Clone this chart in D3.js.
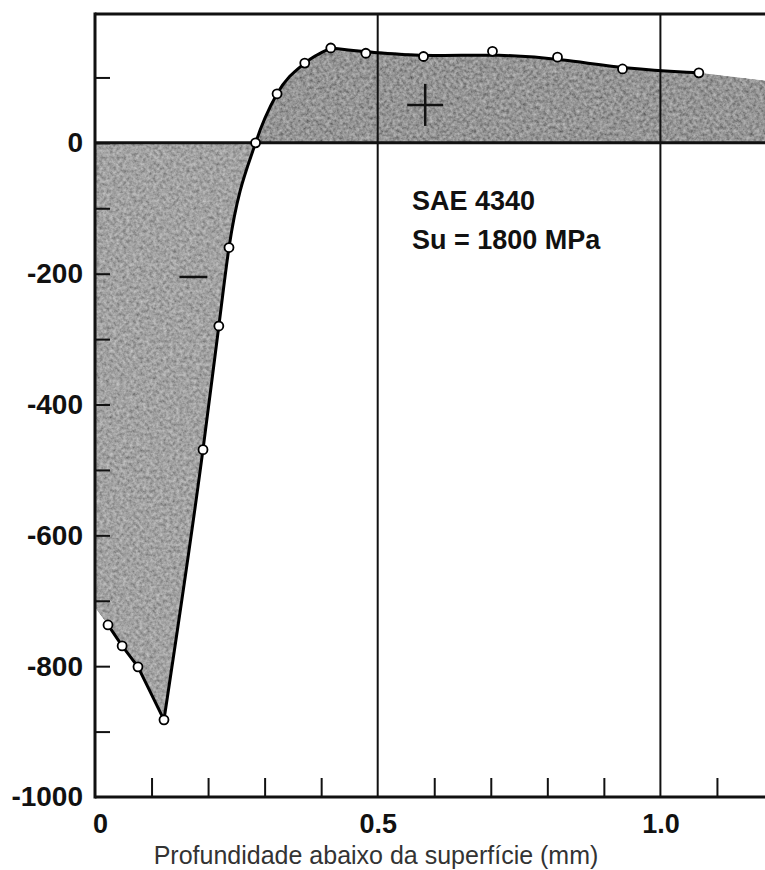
<!DOCTYPE html>
<html>
<head>
<meta charset="utf-8">
<script src="https://cdn.jsdelivr.net/npm/d3@7"></script>
<style>
  html, body { margin: 0; padding: 0; background: #fff; }
  svg { display: block; }
</style>
</head>
<body>
<svg id="chart" width="765" height="870"></svg>
<script>
// ---- data ----
const depth  = [0.023, 0.048, 0.076, 0.122, 0.191, 0.219, 0.237, 0.284, 0.322, 0.371, 0.417, 0.479, 0.581, 0.703, 0.818, 0.933, 1.068];
const stress = [-737, -769, -801, -882, -469, -280, -160, 0, 75, 122, 145, 137, 132, 140, 131, 113, 107];
// shaded region continues past the measured points
const fillEdgeDepth  = [0, 1.185];
const fillEdgeStress = [-710, 95];

const yTickValues  = [100, 0, -100, -200, -300, -400, -500, -600, -700, -800, -900];
const yLabelValues = [0, -200, -400, -600, -800, -1000];
const xTickValues  = [0.1, 0.2, 0.3, 0.4, 0.6, 0.7, 0.8, 0.9, 1.1];
const xLabelValues = [0, 0.5, 1.0];
const xGridValues  = [0.5, 1.0];

const xTitle = "Profundidade abaixo da superfície (mm)";
const noteLines = ["SAE 4340", "Su = 1800 MPa"];

// ---- scales ----
const svg = d3.select("#chart");
const x = d3.scaleLinear().domain([0, 1.185]).range([95, 765]);
const y = d3.scaleLinear().domain([-1000, 197]).range([797, 14]);
const FONT = "Liberation Sans, Arial, sans-serif";

const defs = svg.append("defs");
const f = defs.append("filter").attr("id", "grain")
  .attr("x", "-5%").attr("y", "-5%").attr("width", "110%").attr("height", "110%");
f.append("feTurbulence").attr("type", "fractalNoise").attr("baseFrequency", "0.3")
  .attr("numOctaves", 3).attr("seed", 7).attr("result", "t");
f.append("feColorMatrix").attr("in", "t").attr("type", "matrix")
  .attr("values", "1 0 0 0 0  1 0 0 0 0  1 0 0 0 0  0 0 0 0 1").attr("result", "g");
f.append("feComposite").attr("in", "SourceGraphic").attr("in2", "g")
  .attr("operator", "arithmetic").attr("k1", 0).attr("k2", 1).attr("k3", 0.5).attr("k4", -0.25)
  .attr("result", "m");
f.append("feComposite").attr("in", "m").attr("in2", "SourceAlpha").attr("operator", "in");

defs.append("clipPath").attr("id", "above").append("rect")
  .attr("x", 0).attr("y", 0).attr("width", 765).attr("height", y(0));
defs.append("clipPath").attr("id", "below").append("rect")
  .attr("x", 0).attr("y", y(0)).attr("width", 765).attr("height", 870 - y(0));

// ---- curve segments ----
const pts = depth.map((d, i) => [d, stress[i]]);
const minIdx = stress.indexOf(d3.min(stress));
const peakIdx = stress.indexOf(d3.max(stress));
const segLinear = pts.slice(0, minIdx + 1);           // straight run down to the minimum
const segRise   = pts.slice(minIdx, peakIdx + 1);     // steep smooth rise
const segTail   = pts.slice(peakIdx);                  // gently falling smoothed tail
const last = pts[pts.length - 1];
const tailCurve = d3.curveBundle.beta(0.7);

const mk = c => d3.area().x(d => x(d[0])).y0(y(0)).y1(d => y(d[1])).curve(c);
const areaD =
  mk(d3.curveLinear)([[fillEdgeDepth[0], fillEdgeStress[0]], ...segLinear]) +
  mk(d3.curveMonotoneX)(segRise) +
  mk(d3.curveLinear)(segTail.slice(0, 1).concat(segTail.slice(-1))) +
  mk(d3.curveLinear)([last, [fillEdgeDepth[1], fillEdgeStress[1]]]);

// tail area: fill between the bundled line and zero using a closed path
const tailLine = d3.line().x(d => x(d[0])).y(d => y(d[1])).curve(tailCurve)(segTail);
const tailAreaD = tailLine + `L${x(last[0])},${y(0)}L${x(segTail[0][0])},${y(0)}Z`;

svg.append("path").attr("d", areaD + tailAreaD).attr("fill", "#959595")
  .attr("filter", "url(#grain)").attr("clip-path", "url(#above)");
svg.append("path").attr("d", areaD).attr("fill", "#a2a2a2")
  .attr("filter", "url(#grain)").attr("clip-path", "url(#below)");

// ---- frame & grid ----
const lineG = svg.append("g").attr("stroke", "#111").attr("fill", "none");
xGridValues.forEach(v => {
  lineG.append("line").attr("x1", x(v)).attr("x2", x(v)).attr("y1", y(197)).attr("y2", y(-1000))
    .attr("stroke-width", 2);
});
lineG.append("line").attr("x1", x(0)).attr("x2", x(1.185)).attr("y1", y(0)).attr("y2", y(0)).attr("stroke-width", 3);
lineG.append("line").attr("x1", x(0)).attr("x2", x(1.185)).attr("y1", y(197)).attr("y2", y(197)).attr("stroke-width", 3);
lineG.append("line").attr("x1", x(0)).attr("x2", x(1.185)).attr("y1", y(-1000)).attr("y2", y(-1000)).attr("stroke-width", 3);
lineG.append("line").attr("x1", x(0)).attr("x2", x(0)).attr("y1", y(197) - 1.5).attr("y2", y(-1000) + 1.5).attr("stroke-width", 3);

// minor ticks (inside)
const yTicksG = svg.append("g").attr("transform", `translate(${x(0)},0)`)
  .call(d3.axisRight(y).tickValues(yTickValues).tickSize(15).tickFormat(""));
yTicksG.select(".domain").remove();
yTicksG.selectAll("line").attr("stroke", "#111").attr("stroke-width", 2);

const xTicksG = svg.append("g").attr("transform", `translate(0,${y(-1000)})`)
  .call(d3.axisTop(x).tickValues(xTickValues).tickSize(19).tickFormat(""));
xTicksG.select(".domain").remove();
xTicksG.selectAll("line").attr("stroke", "#111").attr("stroke-width", 2);

// labels
const yLab = svg.append("g").attr("transform", `translate(${x(0)},0)`)
  .call(d3.axisLeft(y).tickValues(yLabelValues).tickSize(0).tickPadding(12).tickFormat(d => String(d)));
yLab.select(".domain").remove();
yLab.selectAll("text").attr("font-family", FONT)
  .attr("font-size", 28).attr("font-weight", "bold").attr("fill", "#111");

const xLab = svg.append("g").attr("transform", `translate(0,${y(-1000)})`)
  .call(d3.axisBottom(x).tickValues(xLabelValues).tickSize(0).tickPadding(17)
    .tickFormat(d => d === 0 ? "0" : d.toFixed(1)));
xLab.select(".domain").remove();
xLab.selectAll("text").attr("font-family", FONT)
  .attr("font-size", 27).attr("font-weight", "bold").attr("fill", "#111")
  .attr("dx", d => d === 0 ? 5 : 0);

svg.append("text").attr("x", x(0.497)).attr("y", 864).attr("text-anchor", "middle")
  .attr("font-family", FONT).attr("font-size", 25)
  .attr("fill", "#333").text(xTitle);

// ---- curve ----
const lineOf = c => d3.line().x(d => x(d[0])).y(d => y(d[1])).curve(c);
svg.append("path")
  .attr("d", lineOf(d3.curveLinear)(segLinear) + lineOf(d3.curveMonotoneX)(segRise) + tailLine)
  .attr("fill", "none").attr("stroke", "#000").attr("stroke-width", 3)
  .attr("stroke-linejoin", "round").attr("stroke-linecap", "round");

svg.append("g").selectAll("circle").data(pts).join("circle")
  .attr("cx", d => x(d[0])).attr("cy", d => y(d[1])).attr("r", 4.5)
  .attr("fill", "#fff").attr("stroke", "#000").attr("stroke-width", 1.8);

// ---- sign marks ----
const plusMark = {depth: 0.584, stress: 58};
const minusMark = {depth: 0.174, stress: -205};
const signG = svg.append("g").attr("stroke", "#111").attr("stroke-width", 2.5);
signG.append("line").attr("x1", x(plusMark.depth) - 18).attr("x2", x(plusMark.depth) + 18)
  .attr("y1", y(plusMark.stress)).attr("y2", y(plusMark.stress));
signG.append("line").attr("x1", x(plusMark.depth)).attr("x2", x(plusMark.depth))
  .attr("y1", y(plusMark.stress) - 21).attr("y2", y(plusMark.stress) + 21);
signG.append("line").attr("x1", x(minusMark.depth) - 14).attr("x2", x(minusMark.depth) + 14)
  .attr("y1", y(minusMark.stress)).attr("y2", y(minusMark.stress));

// ---- annotation ----
svg.append("g").selectAll("text").data(noteLines).join("text")
  .attr("x", 412).attr("y", (d, i) => 210 + i * 39)
  .attr("font-family", FONT).attr("font-size", 27)
  .attr("font-weight", "bold").attr("fill", "#111").text(d => d);
</script>
</body>
</html>
